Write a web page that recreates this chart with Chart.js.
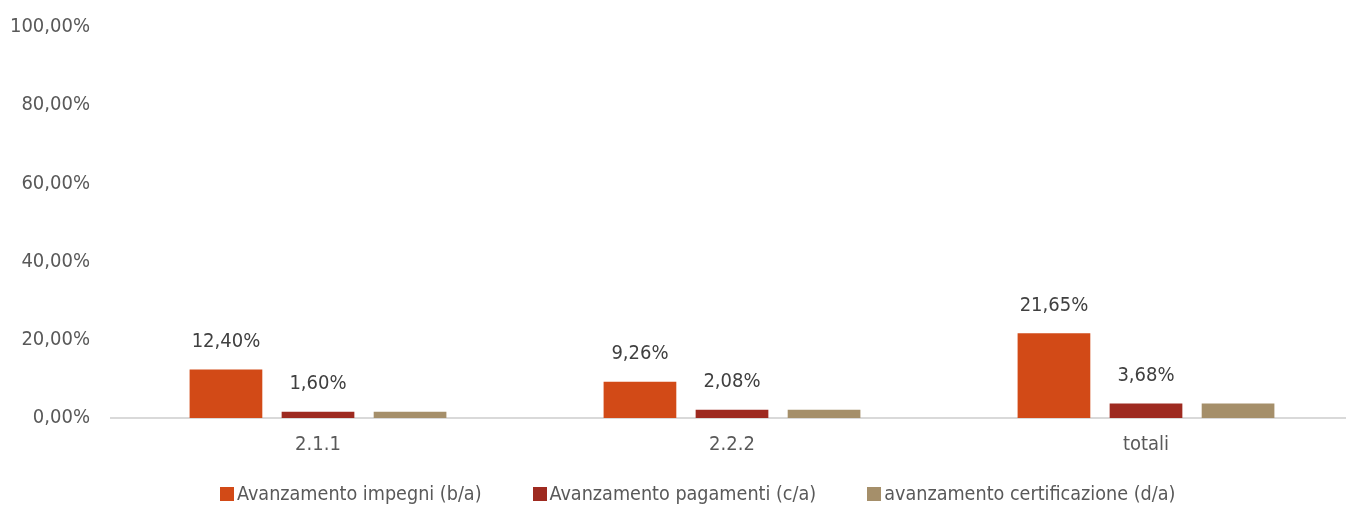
<!DOCTYPE html>
<html lang="it">
<head>
<meta charset="UTF-8">
<title>Avanzamento</title>
<script src="https://cdn.jsdelivr.net/npm/chart.js@4.4.0/dist/chart.umd.min.js"></script>
<style>
  html, body { margin: 0; padding: 0; background: #fff; overflow: hidden; }
  #wrap { position: relative; width: 1353px; height: 506px; }
  #legend {
    position: absolute; left: 220px; top: 482px;
    display: flex; align-items: center; gap: 51px;
    font: 19.6px 'DejaVu Sans Condensed', 'Liberation Sans Narrow', sans-serif;
    color: #595959; line-height: 24px; white-space: nowrap;
  }
  #legend span.item { display: flex; align-items: center; }
  #legend i { display: inline-block; width: 14px; height: 14px; margin-right: 3px; }
</style>
</head>
<body>
<div id="wrap"><canvas id="myChart"></canvas><div id="legend"></div></div>
<script>
// data
const categories = ["2.1.1", "2.2.2", "totali"];
const impegni = [12.40, 9.26, 21.65];
const pagamenti = [1.60, 2.08, 3.68];
const certificazione = [1.60, 2.08, 3.68];
const seriesNames = ["Avanzamento impegni (b/a)", "Avanzamento pagamenti (c/a)", "avanzamento certificazione (d/a)"];
const seriesColors = ['#D24A17', '#9E2A20', '#A58F6A'];
const yTicks = [0, 20, 40, 60, 80, 100];

const FONT = "'DejaVu Sans Condensed', 'Liberation Sans Narrow', sans-serif";

function fmt(v) {
  return v.toFixed(2).replace('.', ',') + '%';
}

// value labels above bars (only first two series carry them)
const barLabels = {
  id: 'barLabels',
  afterDatasetsDraw(chart) {
    const ctx = chart.ctx;
    ctx.save();
    ctx.font = '20px ' + FONT;
    ctx.fillStyle = '#404040';
    ctx.textAlign = 'center';
    ctx.textBaseline = 'middle';
    [0, 1].forEach(i => {
      const meta = chart.getDatasetMeta(i);
      meta.data.forEach((bar, j) => {
        const v = chart.data.datasets[i].data[j];
        ctx.fillText(fmt(v), bar.x, bar.y - 28);
      });
    });
    ctx.restore();
  }
};

const config = {
  type: 'bar',
  data: {
    labels: categories,
    datasets: [
      { label: seriesNames[0], data: impegni, backgroundColor: seriesColors[0] },
      { label: seriesNames[1], data: pagamenti, backgroundColor: seriesColors[1] },
      { label: seriesNames[2], data: certificazione, backgroundColor: seriesColors[2] }
    ]
  },
  options: {
    responsive: true,
    maintainAspectRatio: false,
    animation: false,
    layout: { padding: { top: 0, left: 0, right: 0, bottom: 0 } },
    datasets: {
      bar: { categoryPercentage: 0.667, barPercentage: 0.79 }
    },
    scales: {
      x: {
        afterFit(axis) { axis.height = 88; },
        grid: { display: false, drawTicks: false },
        border: { display: true, color: '#D9D9D9', width: 2 },
        ticks: { color: '#595959', font: { family: FONT, size: 20 }, padding: 15 }
      },
      y: {
        min: 0,
        max: 100,
        afterBuildTicks(axis) {
          axis.ticks = yTicks.map(v => ({ value: v }));
        },
        afterFit(axis) {
          axis.width = 111;
          axis.paddingTop = 27;
          axis.paddingBottom = 0;
        },
        grid: { display: false, drawTicks: false },
        border: { display: false },
        ticks: {
          color: '#595959',
          font: { family: FONT, size: 20 },
          padding: 21,
          callback: v => fmt(v)
        }
      }
    },
    plugins: {
      legend: { display: false },
      tooltip: { enabled: false }
    }
  },
  plugins: [barLabels]
};

const myChart = new Chart(document.getElementById('myChart'), config);

// legend built from the datasets
const legendDiv = document.getElementById('legend');
myChart.data.datasets.forEach(ds => {
  const item = document.createElement('span');
  item.className = 'item';
  const box = document.createElement('i');
  box.style.background = ds.backgroundColor;
  item.appendChild(box);
  item.appendChild(document.createTextNode(ds.label));
  legendDiv.appendChild(item);
});
</script>
</body>
</html>
